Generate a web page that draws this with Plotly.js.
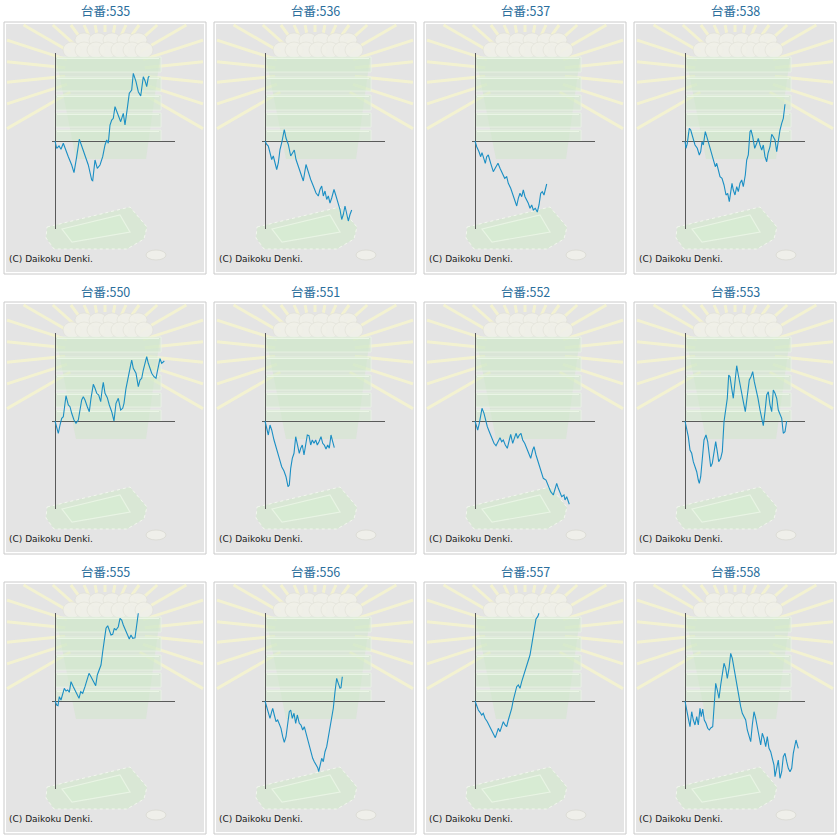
<!DOCTYPE html>
<html>
<head>
<meta charset="utf-8">
<script src="https://cdn.plot.ly/plotly-3.0.1.min.js"></script>
<style>body{margin:0;background:#fff}</style>
</head>
<body>
<div id="chart" style="width:840px;height:840px"></div>
<script>
// machine numbers, one panel each
const machineNos = ['535','536','537','538','550','551','552','553','555','556','557','558'];

// games played (x) and coin difference (y), scaled units
const gamesByMachine = [
  [0,1.7,4,6,8.3,10,13.3,16.7,19,21.7,24.3,26.7,30,33.3,36.7,37.7,40,42.3,45,47.7,50,51.7,53.3,55,56.7,58.3,60,63.3,65.7,68.3,70,72.3,74.3,76.7,78.3,81,83.3,85.7,88.3,90,91.7,93.3,94.3],
  [0,1.7,3.3,5,6.7,8.3,10,11.7,13.3,15,16.7,18.3,19.3,21,23.3,25.7,27.7,29.3,31,33.3,35.7,38.3,41,43.3,45.7,48.3,51,53.3,55,56.7,58.3,60,61.7,63.3,65,66.7,69,71,73.3,75,76.7,78.3,80,81.7,83.3,85,86.7],
  [0,1.7,4,5.7,7,9,10.3,11.7,13.3,15.7,18.3,21,23,25,27.7,29.7,31.7,33.3,35.7,37.7,39.7,41.7,43.3,45,46.7,48.3,50,51.7,53.3,55,56.7,58.3,60.3,62.3,64,65.7,67.3,69,70.3,71.7],
  [0,1,2.3,4.3,5.7,7.7,10,12.3,14.3,15.7,17,18.3,20.3,22.3,24.3,26.7,28.3,30.3,31.7,33.3,35,37,39,41,42.7,44.3,45.7,47,48.3,50,51.7,53.3,55,56.7,58.3,60.3,61.7,63.3,65,66,67.7,69.7,71.7,73.3,75,76.7,78.3,80,81.7,83,85,86.7,88.3,90,91.7,93.3,95,96.7,98.3,100],
  [0,1.7,3.3,5,6.7,8.3,10,11,13.3,15,16.7,19,21,23.3,25,26.7,28.3,30,32.3,34.3,36,38.3,40,41.7,43.7,45.7,47.3,48.3,50,52.3,54.3,56.7,59,61,63.3,65.7,67.7,69,71,73.3,75,76.7,78.3,81,83.3,85,86.7,88.3,90,91.7,93.3,95,96.7,99,101,102.3,105,106.7,108.3,109.3],
  [0,1.7,3.3,5,6.7,9,11.7,14.3,16.7,19,21,23,24.3,25.7,27.3,29,30.7,32.3,34.3,35.7,37.3,39,40.7,42.3,44,45.7,47.3,49,50.7,52.3,54,56,57.7,59.3,61,62.7,64.3,66,67.7,69.3],
  [0,1.7,2.7,4.3,5.7,7,9,10.3,12.3,14.3,16.7,19,21,23.3,25,26.7,28.3,30.3,32.3,34.3,35.7,37.7,39.3,41,42.7,44.3,46,47.7,49.7,51.7,53.7,55.7,57.7,59,61,63.3,65.7,68.3,71,73.3,75.7,78.3,80,81.7,83.3,85,86.7,89,90,91.7,93.3,94.3],
  [0,1.7,3.3,5,6.7,8.3,10,11.7,13.3,14.3,15.7,17.3,19,21,22.7,24.3,25.7,27.3,29,30.7,32.3,33.7,35.7,37.3,39,40.7,42.3,43.7,45,46.7,48.3,50,51.7,53.3,55,56.7,58.3,60.3,62.3,64.3,66,67.7,69.3,71,73,75,77,78.3,80,81.7,83.3,85,86.7,88.3,90,91.7,93.3,95,96.7,98.3,100,101.7],
  [0,1.7,3,4.3,6,7.7,9.3,11,12.7,14.3,16,18.3,20,22.3,24,25.7,27.7,30,31.7,34,36,38.3,40.7,42.3,44.3,46,47.7,49.3,51,52.7,54.3,56,57.7,59.3,61,63.3,65,66.7,68.3,70.3,72.3,74.3,76,77.7,80,81.7,83.3],
  [0,1.7,3.3,5,6.7,7.7,9.3,11,12.7,14.3,16,17.7,19.3,21,22.7,24.3,25.7,27.3,29,30.7,32.3,34.3,36,37.7,39.3,41,42.7,44.3,46,47.7,49.3,51,52.7,53.7,55,56.7,58.3,60,61.7,63.3,65,66.7,68.3,70,71.7,73.3,75,76,77.3],
  [0,1.7,3.3,5,6.7,8.3,10,12.3,14.3,16.7,19,20.3,21.7,23.3,25,26.7,28.3,30,31.7,33.3,35,36.7,38.3,40,41.7,43.3,45,46.7,48.3,50,51.7,53.3,55,56.7,58.3,60,61,62.7,64],
  [0,1.7,3.3,5,6.7,8.3,10,11.7,13.3,15,16.3,17.7,19.3,21,22.7,24.3,26,27.7,29,30.7,32.3,34,35.7,37.3,39,40.7,42.3,44,45.7,47.3,49,50.7,52.3,54,55.7,57.3,59,60.7,62.3,64,65.7,67.3,69,70.7,72.3,74,75.7,77.3,79,80.7,82.3,84,85.7,87.3,89,90,91.7,93.3,95,96.7,98.3,100,101.7,103.3,105,106.7,108.3,111,113.3]
];

const diffByMachine = [
  [0,-7.3,-5,-8.3,-2.3,-7.3,-15.7,-24,-31.7,-15.7,1.7,-5,-15.7,-24,-39,-39.7,-19,-27.3,-24,-15.7,-4,1,-2.3,16,21,22.7,34.3,24.3,19.3,27.7,16,32.7,47.7,51,67.7,59.3,49.3,45,64.3,60.3,54.3,63.7,65],
  [0,-3.5,-5,-12,-18.5,-15,-22,-28.5,-22,-8.5,-2,6.5,11.5,3,-3.5,-15,-12,-9,-18.5,-25,-33.5,-40,-23.5,-32,-38.5,-45,-52,-55,-48.5,-45,-55,-50,-58.5,-55,-62,-57,-48.5,-55,-63.5,-68.5,-78.5,-73.5,-65,-72,-80,-73.5,-69],
  [0,-5.7,-10.7,-15.7,-11.7,-17.3,-22.3,-15.7,-14,-22.3,-30.7,-25.7,-22.3,-27.3,-32.3,-37.3,-35.7,-42.3,-47.3,-54,-60.7,-65,-57.3,-52.3,-55.7,-49,-55.7,-59,-62.3,-67.3,-64,-69,-67.3,-71,-64,-52.3,-50.7,-54,-47.3,-43],
  [0,-7.3,-2.3,12.7,11,4.3,-4,-7.3,-14,-10.7,-0.7,-4,9.3,2.7,-4,-12.3,-19,-25.7,-22.3,-30.7,-35.7,-37.3,-44,-54,-52.3,-60.7,-50.7,-42.3,-49,-54,-45.7,-50.7,-42.3,-39,-45.7,-34,-19,-14,9.3,11,4.3,-7.3,-2.3,2.7,-4,-9,-4,-15.7,-20.7,-12.3,-5.7,6.7,4.3,1,-10.7,2.7,11,17.7,22.7,36.7],
  [0,-7.3,-12.3,-4,2.7,4.3,16,25.3,16,14.3,7.7,1,-2.3,1,11,21,24.3,21,14.3,9.3,22.7,36.7,32.7,27.7,26,19.3,32.7,38.7,27.7,23.3,16,9.3,0,17.7,22.7,11,12.7,17.7,32.7,42.7,52.7,61,52.7,47.7,34.3,41,42.7,51,57.7,64.3,57.7,52.7,47.7,44.3,42.7,49.3,62.3,57.7,59.3,60],
  [0,-9,-14,-4,-9,-19,-27.3,-37.3,-45.7,-50,-55.7,-65.7,-64,-47.3,-37.3,-32.3,-15.7,-24,-32.3,-27.3,-24,-34,-24,-14,-14.7,-24,-19,-22.3,-19,-24,-20.7,-15.7,-22.3,-24,-28,-24,-27.3,-14,-20.7,-26.7],
  [0,-5.7,-9,-2.3,6,12.7,7.7,1,-5.7,-10.7,-17.3,-22.3,-24.7,-19,-16.7,-20.7,-19,-24,-27.3,-19,-13.3,-22.3,-16.7,-12.3,-17.3,-14,-12.3,-19,-22.3,-27.3,-32.3,-37.3,-29,-25.7,-34,-40.7,-49,-57.3,-59,-65.7,-70.7,-74,-69,-62.3,-67.3,-70.7,-75.7,-74,-79,-75.7,-80.7,-83.3],
  [0,-7.3,-15.7,-29,-32.3,-40.7,-45.7,-50.7,-59,-62.3,-55.7,-37.3,-19,-14,-20.7,-34,-45.7,-42.3,-29,-20.7,-30.7,-40.7,-37.3,-30.7,-0.7,9.3,22.7,46,44.3,32.7,22.7,39.3,55.3,46,36,29.3,19.3,9.3,26,41,44.3,49.3,39.3,32.7,22.7,11,0,-4.7,9.3,26,29.3,16,9.3,31,27.7,22.7,11,6,2.7,-12.3,-10.7,0],
  [0,-4,-4.7,4.3,1,7.7,12.7,10,11,8.7,19.3,14.3,11,6.7,2.7,9.3,7.7,14.3,21,27.7,24.3,19.3,15.3,26,32.7,36,49.3,62.7,72.7,75.3,71,66,66.7,72.7,71,74.3,82.7,81,76,71,66,62,66,62.7,63.3,74.3,87.7],
  [0,-5.7,-12.3,-17.3,-10.7,-7.3,-14,-20.7,-19,-24,-27.3,-35.7,-41.3,-35.7,-24,-10.7,-9,-17.3,-12.3,-22.3,-14,-22.3,-24,-29,-25.7,-32.3,-37.3,-44,-50.7,-57.3,-60.7,-64,-66.7,-70.7,-64,-57.3,-60.7,-50.7,-45.7,-37.3,-25.7,-17.3,-7.3,9.3,22.7,17.7,12.7,13.3,24.3],
  [0,-5.7,-9,-11.3,-14,-12.3,-17.3,-20.7,-24.7,-29,-34,-36.7,-32.3,-27.3,-30.7,-25.7,-20.7,-24,-25.7,-19,-14,-7.3,1,7.7,14.3,16,12.7,19.3,24.3,29.3,34.3,41,46,56,66,77.7,82,84.3,87.7],
  [0,-7.3,-17.3,-25.7,-10.7,-19,-24,-15.7,-24,-7.3,-15.7,-8,-19,-22.3,-27.3,-29,-26.7,-25.7,-4,17.7,11,2.7,16,27.7,37.7,32.7,22.7,32.7,47.7,42.7,32.7,22.7,11,1,-5.7,-12.3,-15.7,-19,-29,-35.7,-40.7,-24,-10.7,-17.3,-27.3,-37.3,-44,-32.3,-37.3,-45.7,-35.7,-47.3,-50.7,-57.3,-64,-75.7,-67.3,-59,-77.3,-70.7,-55.7,-52.3,-60.7,-67.3,-70.7,-67.3,-52.3,-39,-47.3]
];

const titlePrefix = '台番:';
const copyright = '(C) Daikoku Denki.';

const W = 840, H = 840;
const px = x => x / W;
const py = y => 1 - y / H;

let traces = [];
let shapes = [];
let annotations = [];
let layout = {
  width: W,
  height: H,
  margin: {l: 0, r: 0, t: 0, b: 0},
  showlegend: false,
  paper_bgcolor: '#ffffff',
  plot_bgcolor: 'rgba(0,0,0,0)',
  hovermode: false
};

function rect(x0, y0, x1, y1, fill, line) {
  shapes.push({type: 'rect', xref: 'paper', yref: 'paper', layer: 'below',
    x0: px(x0), x1: px(x1), y0: py(y1), y1: py(y0),
    fillcolor: fill, line: line || {width: 0}});
}
function poly(pts, fill, line) {
  let d = pts.map((p, k) => (k ? 'L' : 'M') + px(p[0]) + ',' + py(p[1])).join(' ') + ' Z';
  shapes.push({type: 'path', xref: 'paper', yref: 'paper', layer: 'below',
    path: d, fillcolor: fill, line: line || {width: 0}});
}
function seg(x0, y0, x1, y1, color, width) {
  shapes.push({type: 'line', xref: 'paper', yref: 'paper', layer: 'below',
    x0: px(x0), y0: py(y0), x1: px(x1), y1: py(y1), line: {color: color, width: width}});
}
function ell(cx, cy, rx, ry, fill, line) {
  shapes.push({type: 'circle', xref: 'paper', yref: 'paper', layer: 'below',
    x0: px(cx - rx), x1: px(cx + rx), y0: py(cy + ry), y1: py(cy - ry),
    fillcolor: fill, line: line || {width: 0}});
}

// faint backdrop picture of each panel
function drawBackdrop(L, T) {
  rect(L, T, L + 202, T + 252, '#ffffff', {color: '#cacaca', width: 1});
  rect(L + 2, T + 2, L + 200, T + 250, '#e4e4e4');

  // rays
  const cx = L + 101, cy = T + 50;
  for (let a = -30; a <= 210; a += 12) {
    let dx = Math.cos(a * Math.PI / 180), dy = -Math.sin(a * Math.PI / 180);
    let t = 1e9;
    if (dx > 0.001) t = Math.min(t, (L + 199 - cx) / dx);
    if (dx < -0.001) t = Math.min(t, (L + 3 - cx) / dx);
    if (dy > 0.001) t = Math.min(t, (T + 249 - cy) / dy);
    if (dy < -0.001) t = Math.min(t, (T + 3 - cy) / dy);
    seg(cx + dx * 40, cy + dy * 40, cx + dx * t, cy + dy * t, 'rgba(246,245,206,0.85)', 3);
  }

  // coin pile on top
  const pileFill = 'rgba(240,240,232,0.9)', pileLine = {color: 'rgba(222,222,212,0.9)', width: 0.6};
  [80, 94, 108, 122, 134].forEach(x => ell(L + x, T + 18, 9, 7, pileFill, pileLine));
  [68, 80, 92, 104, 116, 128, 140].forEach(x => ell(L + x, T + 28, 9, 8, pileFill, pileLine));

  // stacked boxes
  poly([[L + 52, T + 36], [L + 156, T + 36], [L + 142, T + 137], [L + 72, T + 137]], 'rgba(208,230,202,0.5)');
  [[35, 50], [55, 69], [73, 88], [91, 105], [108, 119]].forEach(b => {
    rect(L + 51, T + b[0], L + 157, T + b[1], 'rgba(210,234,204,0.55)', {color: 'rgba(234,244,230,0.8)', width: 1});
    seg(L + 53, T + b[0] + 1.5, L + 155, T + b[0] + 1.5, 'rgba(236,246,232,0.9)', 1.2);
  });

  // tray and coin at the bottom
  poly([[L + 43, T + 205], [L + 126, T + 185], [L + 143, T + 205], [L + 140, T + 217], [L + 123, T + 227], [L + 50, T + 227], [L + 42, T + 216]],
    'rgba(210,232,204,0.65)', {color: 'rgba(244,248,240,0.9)', width: 1, dash: 'dot'});
  poly([[L + 58, T + 207], [L + 116, T + 193], [L + 126, T + 210], [L + 68, T + 220]],
    'rgba(214,236,209,0.7)', {color: 'rgba(234,245,230,0.9)', width: 1.2});
  ell(L + 152, T + 233, 10, 5, '#efefea', {color: '#d8d8d0', width: 0.8});
}

machineNos.forEach((no, i) => {
  const c = i % 4, r = Math.floor(i / 4);
  const L = 4 + 210 * c, T = 22 + 280 * r;
  const sfx = i === 0 ? '' : String(i + 1);

  drawBackdrop(L, T);

  const axisBase = {showgrid: false, showticklabels: false, ticks: '', showline: false,
    zeroline: true, zerolinecolor: '#5a5a5a', zerolinewidth: 1, fixedrange: true};
  layout['xaxis' + sfx] = Object.assign({}, axisBase, {
    domain: [px(L + 48), px(L + 171)], range: [-3, 120], anchor: 'y' + sfx});
  layout['yaxis' + sfx] = Object.assign({}, axisBase, {
    domain: [py(T + 207), py(T + 31)], range: [-88, 88], anchor: 'x' + sfx});

  traces.push({
    x: gamesByMachine[i],
    y: diffByMachine[i],
    xaxis: 'x' + sfx,
    yaxis: 'y' + sfx,
    type: 'scatter',
    mode: 'lines',
    line: {color: '#1b8fc4', width: 1.1},
    hoverinfo: 'skip'
  });

  annotations.push({
    xref: 'paper', yref: 'paper', x: px(L + 101), y: py(T - 11),
    xanchor: 'center', yanchor: 'middle', showarrow: false,
    text: titlePrefix + no,
    font: {family: 'Noto Sans CJK JP, DejaVu Sans, sans-serif', size: 12.5, color: '#2a6e9c'}
  });
  annotations.push({
    xref: 'paper', yref: 'paper', x: px(L + 3), y: py(T + 237),
    xanchor: 'left', yanchor: 'middle', showarrow: false,
    text: copyright,
    font: {family: 'DejaVu Sans, sans-serif', size: 9, color: '#1a1a1a'}
  });
});

layout.shapes = shapes;
layout.annotations = annotations;

Plotly.newPlot('chart', traces, layout, {displayModeBar: false, staticPlot: true});
</script>
</body>
</html>
